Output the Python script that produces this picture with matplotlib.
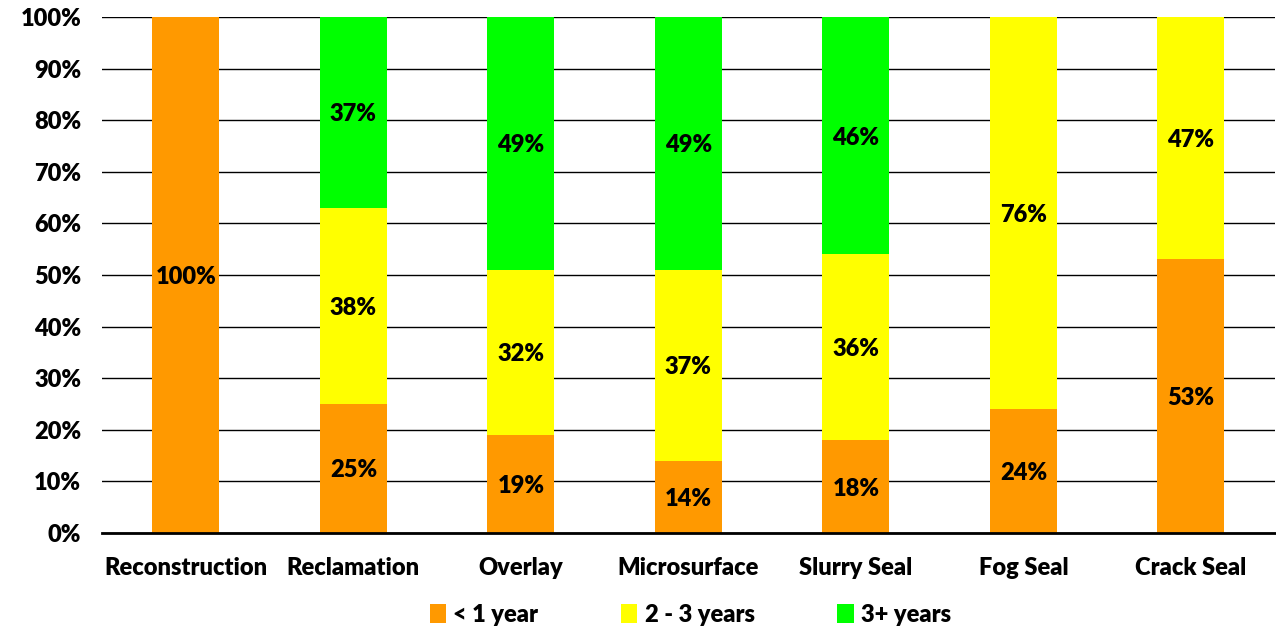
import matplotlib.pyplot as plt
import numpy as np
from matplotlib.patches import Patch

categories = ["Reconstruction", "Reclamation", "Overlay", "Microsurface",
              "Slurry Seal", "Fog Seal", "Crack Seal"]
under_1 = [100, 25, 19, 14, 18, 24, 53]
two_three = [0, 38, 32, 37, 36, 76, 47]
three_plus = [0, 37, 49, 49, 46, 0, 0]
series_names = ["< 1 year", "2 - 3 years", "3+ years"]
colors = ["#FF9900", "#FFFF00", "#00FF00"]
yticks = list(range(0, 101, 10))

plt.rcParams['font.family'] = ['Lato', 'DejaVu Sans']
WEIGHT = 'heavy'
FS = 17

fig = plt.figure(figsize=(12.76, 6.26), dpi=100)
ax = fig.add_axes([0.08, 0.1486, 0.919, 0.8244])

x = np.arange(len(categories))
bottom = np.zeros(len(categories))
for vals, name, col in zip([under_1, two_three, three_plus], series_names, colors):
    vals = np.array(vals, dtype=float)
    ax.bar(x, vals, 0.4, bottom=bottom, color=col, label=name, zorder=3)
    for xi, b, v in zip(x, bottom, vals):
        if v > 0:
            ax.text(xi, b + v / 2, f"{int(v)}%", ha='center', va='center_baseline',
                    fontsize=FS, fontweight=WEIGHT, color='black', zorder=4)
    bottom += vals

ax.set_xlim(-0.5, len(categories) - 0.5)
ax.set_ylim(0, 100)
ax.set_yticks(yticks)
ax.set_yticklabels([f"{t}%" for t in yticks], fontsize=FS, fontweight=WEIGHT)
ax.set_xticks(x)
ax.set_xticklabels(categories, fontsize=FS, fontweight=WEIGHT)
ax.tick_params(axis='x', length=0, pad=17)
ax.tick_params(axis='y', length=0, pad=15)
ax.grid(axis='y', color='black', linewidth=1.0, zorder=0)
for side in ['top', 'right', 'left']:
    ax.spines[side].set_visible(False)
ax.spines['bottom'].set_linewidth(2)
ax.spines['bottom'].set_zorder(5)

handles = [Patch(facecolor=c, label=n) for c, n in zip(colors, series_names)]
fig.legend(handles=handles, loc='center', bbox_to_anchor=(0.541, 0.018),
           ncol=3, frameon=False, handlelength=0.7,
           handleheight=0.8, columnspacing=3.5, handletextpad=0.3,
           prop={'weight': WEIGHT, 'size': FS})

fig.savefig("out.png", dpi=100)
